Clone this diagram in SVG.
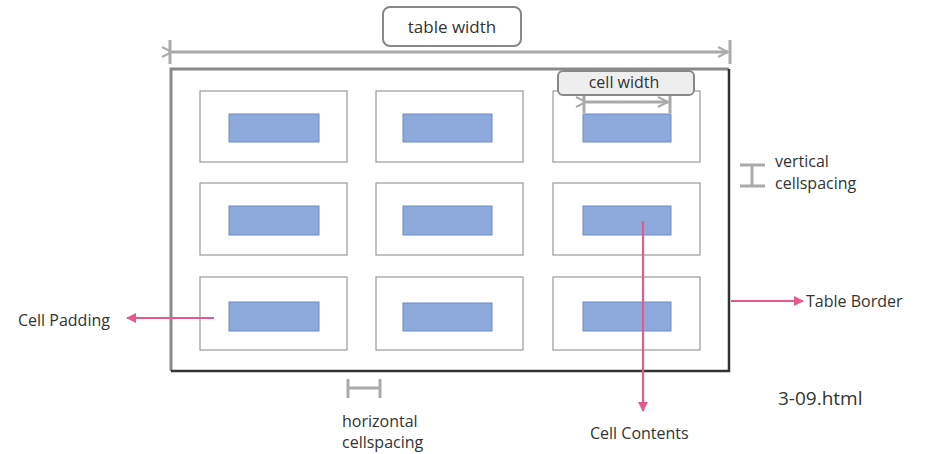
<svg xmlns="http://www.w3.org/2000/svg" width="938" height="454" viewBox="0 0 938 454">
<style>
text{font-family:"Open Sans","Noto Sans","Liberation Sans",sans-serif;fill:#333;}
.cell{fill:#fff;stroke:#999;stroke-width:1.2;}
.content{fill:#8eaadc;stroke:#6d8cc4;stroke-width:1;}
.dim{stroke:#aaa;stroke-width:3;fill:none;}
.pink{stroke:#e55a8c;stroke-width:2.2;fill:none;}
.lbl{font-size:16px;}
</style>
<defs>
<marker id="ah" viewBox="0 0 10 10" refX="9" refY="5" markerWidth="10" markerHeight="10" markerUnits="userSpaceOnUse" orient="auto"><path d="M0,0 L10,5 L0,10 z" fill="#e55a8c"/></marker>
<marker id="dh" viewBox="0 0 12 12" refX="11" refY="6" markerWidth="12" markerHeight="12" markerUnits="userSpaceOnUse" orient="auto"><path d="M1,1 L11,6 L1,11" fill="none" stroke="#aaa" stroke-width="2"/></marker>
</defs>
<g id="table">
<rect x="171" y="69" width="558" height="302" fill="#fff" stroke="none"/>
<path d="M171,371 V69 H729" fill="none" stroke="#8a8a8a" stroke-width="3"/>
<path d="M729,69 V371 H171" fill="none" stroke="#333" stroke-width="2.5"/>
</g>
<g id="cells">
<rect class="cell" x="200" y="91" width="147" height="71"/>
<rect class="cell" x="376" y="91" width="147" height="71"/>
<rect class="cell" x="553" y="91" width="147" height="71"/>
<rect class="cell" x="200" y="183" width="147" height="72"/>
<rect class="cell" x="376" y="183" width="147" height="72"/>
<rect class="cell" x="553" y="183" width="147" height="72"/>
<rect class="cell" x="200" y="277" width="147" height="73"/>
<rect class="cell" x="376" y="277" width="147" height="73"/>
<rect class="cell" x="553" y="277" width="147" height="73"/>
</g>
<g id="contents">
<rect class="content" x="229" y="114" width="90" height="28"/>
<rect class="content" x="403" y="114" width="89" height="28"/>
<rect class="content" x="583" y="114" width="88" height="28"/>
<rect class="content" x="229" y="206" width="90" height="29"/>
<rect class="content" x="403" y="206" width="89" height="29"/>
<rect class="content" x="583" y="206" width="88" height="29"/>
<rect class="content" x="229" y="302" width="90" height="29"/>
<rect class="content" x="403" y="303" width="89" height="28"/>
<rect class="content" x="583" y="302" width="88" height="29"/>
</g>
<g id="connectors">
<path class="dim" d="M170,40 V64 M730,40 V64"/>
<path class="dim" d="M172,52 H728" marker-start="url(#dh)" marker-end="url(#dh)"/>
<path class="dim" d="M584,95 V113 M670,95 V113"/>
<path class="dim" d="M586,102 H668" stroke-width="2.5" marker-start="url(#dh)" marker-end="url(#dh)"/>
<path class="dim" d="M740,165 H765 M740,186 H765 M752,165 V186"/>
<path class="dim" d="M348,379 V398 M380,379 V398 M348,388 H380"/>
<path class="pink" d="M214,318 H127" marker-end="url(#ah)"/>
<path class="pink" d="M731,301 H803" marker-end="url(#ah)"/>
<path class="pink" d="M643,221 V411" marker-end="url(#ah)"/>
</g>
<g id="table-width-label">
<rect x="383" y="7" width="138" height="39" rx="7" fill="#fff" stroke="#888" stroke-width="2"/>
<text x="452" y="33" font-size="17" text-anchor="middle">table width</text>
</g>
<g id="cell-width-label">
<rect x="558" y="71" width="136" height="24" rx="5" fill="#eee" stroke="#888" stroke-width="2"/>
<text x="624" y="88" font-size="16" text-anchor="middle">cell width</text>
</g>
<g id="vertical-cellspacing">
<text class="lbl" x="775" y="167">vertical</text>
<text class="lbl" x="775" y="189">cellspacing</text>
</g>
<g id="horizontal-cellspacing">
<text class="lbl" x="342" y="427">horizontal</text>
<text class="lbl" x="342" y="448">cellspacing</text>
</g>
<g id="cell-padding"><text class="lbl" x="18" y="326">Cell Padding</text></g>
<g id="table-border"><text class="lbl" x="806" y="307">Table Border</text></g>
<g id="cell-contents"><text class="lbl" x="590" y="439">Cell Contents</text></g>
<g id="file"><text x="778" y="405" font-size="19" fill="#111">3-09.html</text></g>
</svg>
